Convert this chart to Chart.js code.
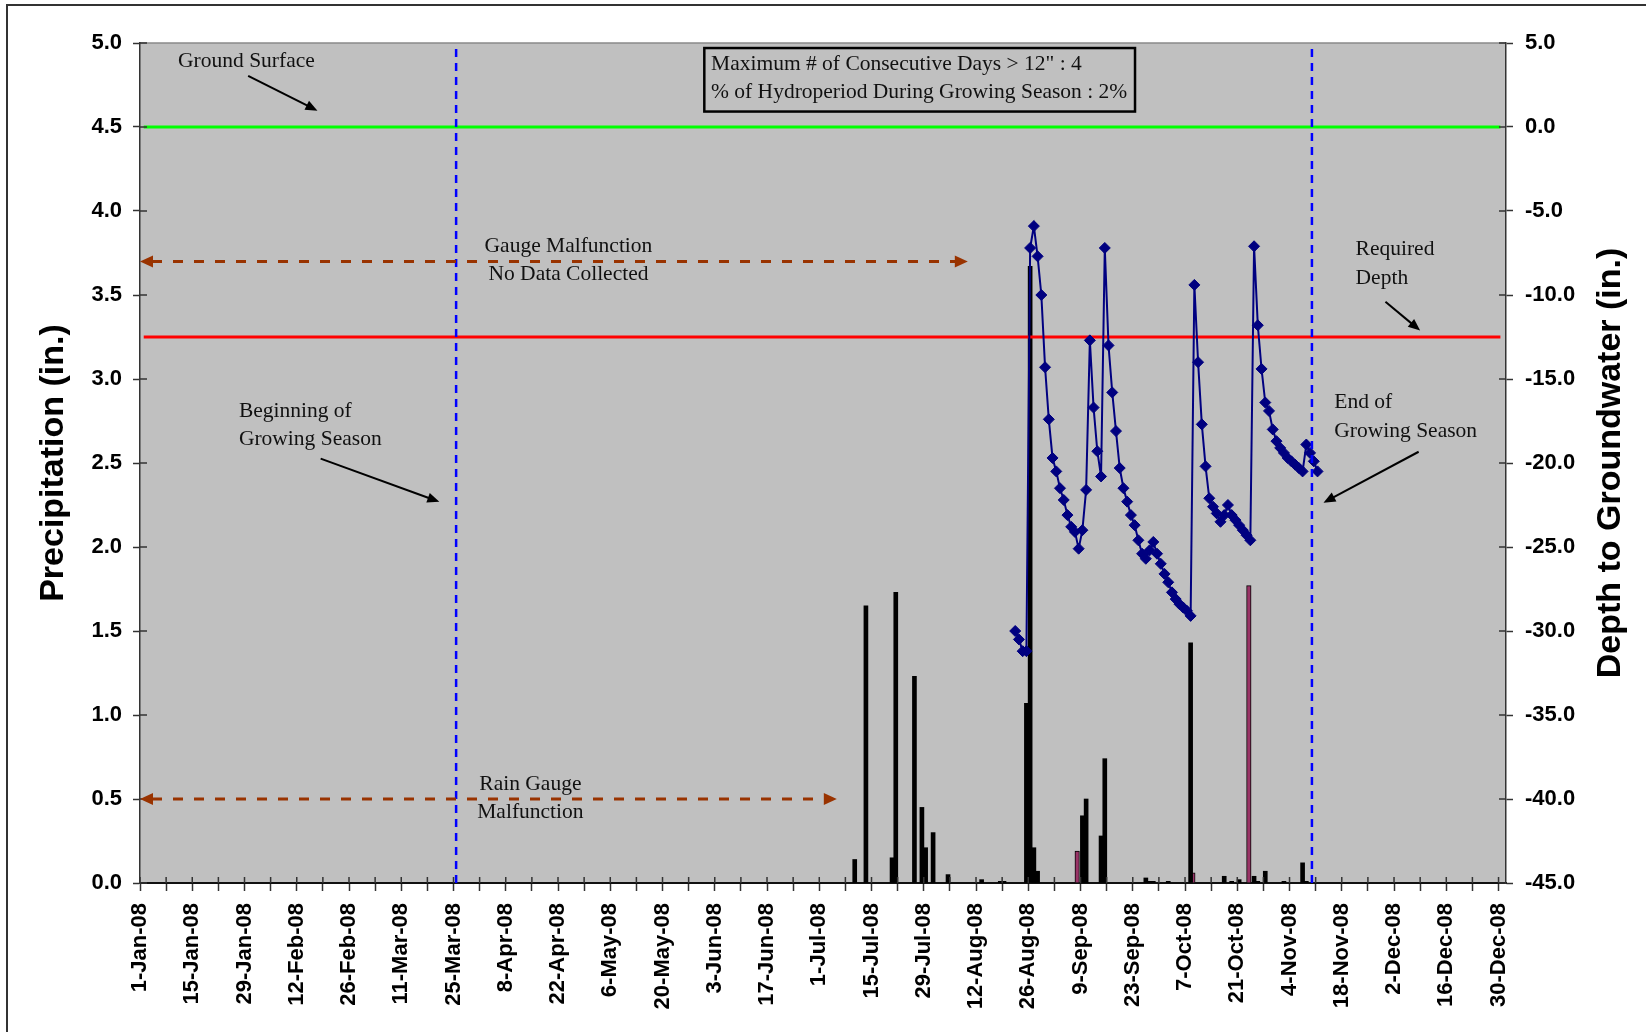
<!DOCTYPE html>
<html>
<head>
<meta charset="utf-8">
<script src="https://cdn.jsdelivr.net/npm/chart.js@4.4.1/dist/chart.umd.min.js"></script>
<style>
  html, body { margin: 0; padding: 0; background: #fff; }
  #wrap { width: 1646px; height: 1032px; }
</style>
</head>
<body>
<div id="wrap"><canvas id="gwChart" width="1646" height="1032"></canvas></div>
<script>
// x values are days counted from 1-Jan-08 (day 0)
const xTickLabels = ['1-Jan-08', '15-Jan-08', '29-Jan-08', '12-Feb-08', '26-Feb-08', '11-Mar-08', '25-Mar-08',
    '8-Apr-08', '22-Apr-08', '6-May-08', '20-May-08', '3-Jun-08', '17-Jun-08', '1-Jul-08', '15-Jul-08',
    '29-Jul-08', '12-Aug-08', '26-Aug-08', '9-Sep-08', '23-Sep-08', '7-Oct-08', '21-Oct-08', '4-Nov-08',
    '18-Nov-08', '2-Dec-08', '16-Dec-08', '30-Dec-08'];

// daily precipitation (in.)
const rainDays = [191, 194, 201, 202, 207, 209, 210, 212, 216, 225, 230, 231, 237, 238, 239, 240, 252, 253,
    257, 258, 269, 270, 271, 275, 281, 290, 292, 294, 298, 299, 301, 306, 311, 312];
const rainIn = [0.14, 1.65, 0.15, 1.73, 1.23, 0.45, 0.21, 0.30, 0.05, 0.02, 0.01, 0.01, 1.07, 3.67, 0.21, 0.07, 0.40, 0.50,
    0.28, 0.74, 0.03, 0.01, 0.01, 0.01, 1.43, 0.04, 0.01, 0.02, 0.04, 0.01, 0.07, 0.01, 0.12, 0.01];

// second precipitation series (shown in maroon)
const rain2Days = [251, 282, 297];
const rain2In = [0.19, 0.06, 1.77];

// depth to groundwater (in.)
const gwDays = [234, 235, 236, 237, 238, 239, 240, 241, 242, 243, 244, 245, 246, 247, 248, 249, 250, 251, 252, 253,
    254, 255, 256, 257, 258, 259, 260, 261, 262, 263, 264, 265, 266, 267, 268, 269, 270, 271, 272, 273,
    274, 275, 276, 277, 278, 279, 280, 281, 282, 283, 284, 285, 286, 287, 288, 289, 290, 291, 292, 293,
    294, 295, 296, 297, 298, 299, 300, 301, 302, 303, 304, 305, 306, 307, 308, 309, 310, 311, 312, 313,
    314, 315];
const gwDepth = [-30.0, -30.5, -31.2, -31.2, -7.2, -5.9, -7.7, -10.0, -14.3, -17.4, -19.7, -20.5, -21.5, -22.2, -23.1, -23.8, -24.1, -25.1, -24.0, -21.6,
    -12.7, -16.7, -19.3, -20.8, -7.2, -13.0, -15.8, -18.1, -20.3, -21.5, -22.3, -23.1, -23.7, -24.6, -25.4, -25.7, -25.2, -24.7, -25.4, -26.0,
    -26.6, -27.1, -27.7, -28.1, -28.4, -28.6, -28.8, -29.1, -9.4, -14.0, -17.7, -20.2, -22.1, -22.6, -23.0, -23.5, -23.1, -22.5, -23.1, -23.4,
    -23.7, -24.0, -24.3, -24.6, -7.1, -11.8, -14.4, -16.4, -16.9, -18.0, -18.7, -19.1, -19.4, -19.7, -19.9, -20.1, -20.3, -20.5, -18.9, -19.4,
    -19.9, -20.5];

const groundSurface = 0.0;
const requiredDepth = -12.5;
const seasonStart = 84.7;  // 25-Mar
const seasonEnd = 314;     // 10-Nov
const refLineDays = [1, 364.5];

const serif = '"Liberation Serif", "Times New Roman", serif';
const sans = 'Arial, "Liberation Sans", sans-serif';
const tickFont = { family: sans, size: 22, weight: 'bold' };

// text notes and arrows, placed in axis units (days, precipitation inches)
const notes = [
    { lines: ['Ground Surface'], x: 10.2, y: 4.89, align: 'left' },
    { lines: ['Gauge Malfunction', 'No Data Collected'], x: 114.8, y: 3.79, align: 'center' },
    { lines: ['Rain Gauge', 'Malfunction'], x: 104.6, y: 0.59, align: 'center' },
    { lines: ['Beginning of', 'Growing Season'], x: 26.5, y: 2.81, align: 'left' },
    { lines: ['Required', 'Depth'], x: 325.7, y: 3.77, align: 'left' },
    { lines: ['End of', 'Growing Season'], x: 320, y: 2.86, align: 'left' },
    { lines: ['Maximum # of Consecutive Days > 12" : 4', '% of Hydroperiod During Growing Season : 2%'], x: 153, y: 4.875, align: 'left' }
];
const pointers = [
    [28.98, 4.804, 47.55, 4.597],
    [48.4, 2.526, 80.2, 2.269],
    [333.7, 3.46, 343.0, 3.288],
    [342.6, 2.567, 317.1, 2.264]
];
const spans = [
    [0, 3.7, 221.8],
    [0, 0.5, 186.7]
];
const infoBox = [151.2, 4.97, 266.6, 4.592];

function head(ctx, x1, y1, x2, y2, len, half) {
    const a = Math.atan2(y2 - y1, x2 - x1);
    const c = Math.cos(a), s = Math.sin(a);
    ctx.beginPath();
    ctx.moveTo(x2, y2);
    ctx.lineTo(x2 - len * c + half * s, y2 - len * s - half * c);
    ctx.lineTo(x2 - len * c - half * s, y2 - len * s + half * c);
    ctx.closePath();
    ctx.fill();
}

const decorations = {
    id: 'decorations',
    beforeDraw(chart) {
        const { ctx, chartArea: a } = chart;
        ctx.save();
        ctx.fillStyle = '#C0C0C0';
        ctx.fillRect(a.left, a.top, a.right - a.left, a.bottom - a.top);
        // outer chart frame
        ctx.strokeStyle = '#333';
        ctx.lineWidth = 2;
        ctx.beginPath();
        ctx.moveTo(7, chart.height);
        ctx.lineTo(7, 5);
        ctx.lineTo(chart.width, 5);
        ctx.stroke();
        ctx.strokeStyle = '#8a8a8a';
        ctx.lineWidth = 1.5;
        ctx.beginPath();
        ctx.moveTo(a.left, a.top);
        ctx.lineTo(a.right, a.top);
        ctx.stroke();
        ctx.restore();
    },
    afterDatasetsDraw(chart) {
        const { ctx, chartArea: a } = chart;
        const x = chart.scales.x, y = chart.scales.y, y2 = chart.scales.y2;
        const px = v => x.getPixelForValue(v);
        const py = v => y.getPixelForValue(v);
        ctx.save();

        // inner halves of the tick marks
        ctx.strokeStyle = '#333';
        ctx.lineWidth = 1.5;
        ctx.beginPath();
        x.ticks.forEach(t => { const p = px(t.value); ctx.moveTo(p, a.bottom); ctx.lineTo(p, a.bottom - 6); });
        y.ticks.forEach(t => { const p = py(t.value); ctx.moveTo(a.left, p); ctx.lineTo(a.left + 7, p); });
        y2.ticks.forEach(t => { const p = y2.getPixelForValue(t.value); ctx.moveTo(a.right, p); ctx.lineTo(a.right - 7, p); });
        ctx.stroke();

        // brown dashed double arrows
        ctx.strokeStyle = '#993300';
        ctx.fillStyle = '#993300';
        ctx.lineWidth = 3;
        spans.forEach(([d0, v, d1]) => {
            const x0 = px(d0), x1 = px(d1), yy = py(v);
            ctx.setLineDash([10, 11]);
            ctx.beginPath();
            ctx.moveTo(x0 + 12, yy);
            ctx.lineTo(x1 - 12, yy);
            ctx.stroke();
            ctx.setLineDash([]);
            head(ctx, x1, yy, x0, yy, 13, 6);
            head(ctx, x0, yy, x1, yy, 13, 6);
        });

        // black pointer arrows
        ctx.strokeStyle = '#000';
        ctx.fillStyle = '#000';
        ctx.lineWidth = 2;
        pointers.forEach(([d0, v0, d1, v1]) => {
            const x0 = px(d0), y0 = py(v0), x1 = px(d1), y1 = py(v1);
            const a2 = Math.atan2(y1 - y0, x1 - x0);
            ctx.beginPath();
            ctx.moveTo(x0, y0);
            ctx.lineTo(x1 - 9 * Math.cos(a2), y1 - 9 * Math.sin(a2));
            ctx.stroke();
            head(ctx, x0, y0, x1, y1, 12, 5);
        });

        // info box
        ctx.lineWidth = 2.5;
        ctx.strokeStyle = '#000';
        ctx.strokeRect(px(infoBox[0]), py(infoBox[1]), px(infoBox[2]) - px(infoBox[0]), py(infoBox[3]) - py(infoBox[1]));

        // notes
        ctx.fillStyle = '#111';
        ctx.font = '21.5px ' + serif;
        ctx.textBaseline = 'middle';
        notes.forEach(n => {
            ctx.textAlign = n.align;
            n.lines.forEach((s, i) => ctx.fillText(s, px(n.x), py(n.y) + i * 28.5));
        });
        ctx.restore();
    },
    afterDraw(chart) {
        // right axis title reads bottom-to-top, like the left one
        const { ctx, chartArea: a } = chart;
        ctx.save();
        ctx.translate(1611, (a.top + a.bottom) / 2);
        ctx.rotate(-Math.PI / 2);
        ctx.font = 'bold 34px ' + sans;
        ctx.fillStyle = '#000';
        ctx.textAlign = 'center';
        ctx.textBaseline = 'middle';
        ctx.fillText('Depth to Groundwater (in.)', 0, 0);
        ctx.restore();
    }
};

const ctx = document.getElementById('gwChart').getContext('2d');

new Chart(ctx, {
    type: 'line',
    data: {
        datasets: [
            {
                label: 'Beginning of Growing Season',
                data: [{ x: seasonStart, y: 0 }, { x: seasonStart, y: 5 }],
                yAxisID: 'y', borderColor: '#0000FF', borderWidth: 2.5, borderDash: [8, 6],
                pointRadius: 0, order: 0
            },
            {
                label: 'End of Growing Season',
                data: [{ x: seasonEnd, y: 0 }, { x: seasonEnd, y: 5 }],
                yAxisID: 'y', borderColor: '#0000FF', borderWidth: 2.5, borderDash: [8, 6],
                pointRadius: 0, order: 0
            },
            {
                label: 'Depth to Groundwater',
                data: gwDays.map((d, i) => ({ x: d + 0.5, y: gwDepth[i] })),
                yAxisID: 'y2', borderColor: '#000080', borderWidth: 2,
                pointStyle: 'rectRot', pointRadius: 5.5,
                pointBackgroundColor: '#000080', pointBorderColor: '#000080', pointBorderWidth: 1,
                tension: 0, order: 1
            },
            {
                label: 'Ground Surface',
                data: refLineDays.map(d => ({ x: d, y: groundSurface })),
                yAxisID: 'y2', borderColor: '#00FF00', borderWidth: 3, pointRadius: 0, order: 2
            },
            {
                label: 'Required Depth',
                data: refLineDays.map(d => ({ x: d, y: requiredDepth })),
                yAxisID: 'y2', borderColor: '#FF0000', borderWidth: 3, pointRadius: 0, order: 2
            },
            {
                type: 'bar',
                label: 'Precipitation',
                data: rainDays.map((d, i) => ({ x: d + 0.5, y: rainIn[i] })),
                yAxisID: 'y', backgroundColor: '#000', borderColor: '#000', borderWidth: 0,
                barThickness: 4, grouped: false, order: 3
            },
            {
                type: 'bar',
                label: 'Precipitation 2',
                data: rain2Days.map((d, i) => ({ x: d + 0.1, y: rain2In[i] })),
                yAxisID: 'y', backgroundColor: '#993366', borderColor: '#000', borderWidth: 1,
                barThickness: 4.5, grouped: false, order: 3
            }
        ]
    },
    options: {
        responsive: false,
        animation: false,
        layout: { padding: { top: 43, left: 0, right: 0, bottom: 0 } },
        plugins: { legend: { display: false }, tooltip: { enabled: false } },
        scales: {
            x: {
                type: 'linear', min: 0, max: 366, offset: false,
                afterFit: s => { s.height = 149; },
                grid: { drawOnChartArea: false, drawTicks: true, tickLength: 8, tickColor: '#333', tickWidth: 1.5, offset: false },
                border: { color: '#111', width: 2 },
                ticks: {
                    stepSize: 7, includeBounds: false, autoSkip: false,
                    minRotation: 90, maxRotation: 90, padding: 12,
                    color: '#000', font: tickFont,
                    callback: v => (v % 14 === 0 ? xTickLabels[v / 14] : '')
                }
            },
            y: {
                position: 'left', min: 0, max: 5,
                afterFit: s => { s.width = 140; },
                grid: { drawOnChartArea: false, tickLength: 7, tickColor: '#333', tickWidth: 1.5 },
                border: { color: '#333', width: 1.5 },
                ticks: { stepSize: 0.5, padding: 11, color: '#000', font: tickFont, callback: v => v.toFixed(1) },
                title: {
                    display: true, text: 'Precipitation (in.)', color: '#000',
                    font: { family: sans, size: 34, weight: 'bold', lineHeight: 1 },
                    padding: { top: 37, bottom: 0 }
                }
            },
            y2: {
                position: 'right', min: -45, max: 5,
                afterFit: s => { s.width = 140; },
                grid: { drawOnChartArea: false, tickLength: 7, tickColor: '#333', tickWidth: 1.5 },
                border: { color: '#333', width: 1.5 },
                ticks: { stepSize: 5, padding: 12, color: '#000', font: tickFont, callback: v => v.toFixed(1) }
            }
        }
    },
    plugins: [decorations]
});
</script>
</body>
</html>
